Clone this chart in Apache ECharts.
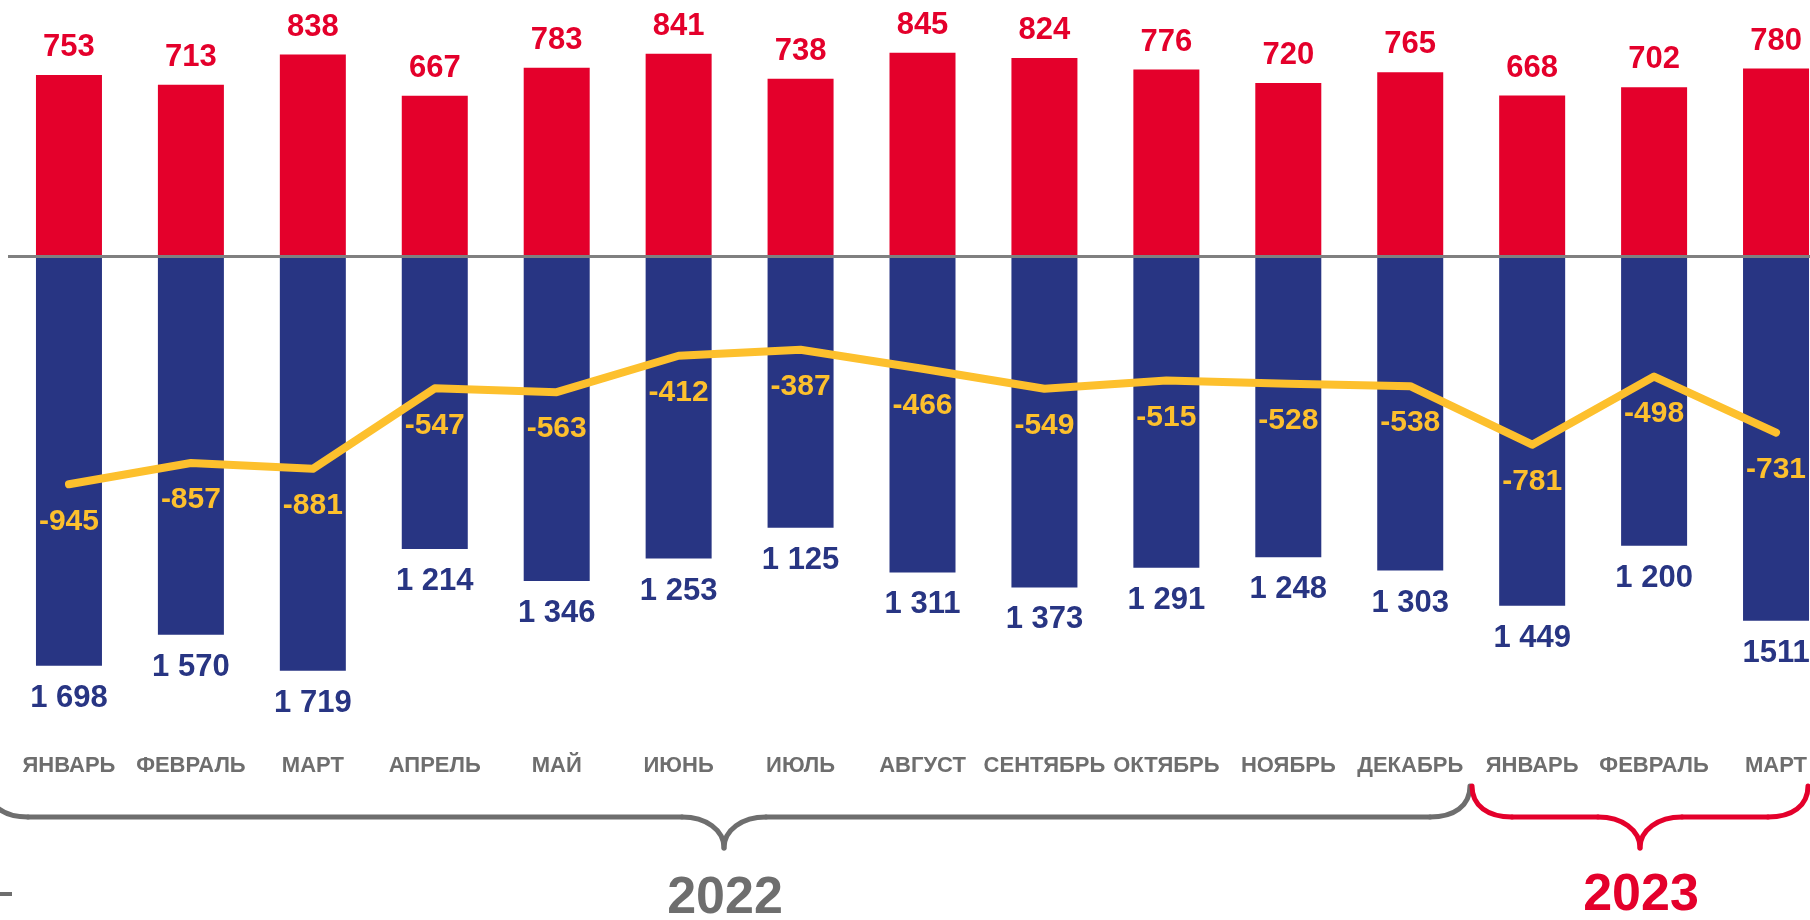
<!DOCTYPE html>
<html>
<head>
<meta charset="utf-8">
<script src="https://cdn.jsdelivr.net/npm/echarts@6/dist/echarts.min.js"></script>
<style>
html,body{margin:0;padding:0;background:#fff;overflow:hidden;width:1810px;height:920px;}
#c{width:1837px;height:920px;}
</style>
</head>
<body>
<div id="c"></div>
<script>
// Data
var months = ['ЯНВАРЬ','ФЕВРАЛЬ','МАРТ','АПРЕЛЬ','МАЙ','ИЮНЬ','ИЮЛЬ','АВГУСТ','СЕНТЯБРЬ','ОКТЯБРЬ','НОЯБРЬ','ДЕКАБРЬ','ЯНВАРЬ','ФЕВРАЛЬ','МАРТ'];
var inflow = [753, 713, 838, 667, 783, 841, 738, 845, 824, 776, 720, 765, 668, 702, 780];
var outflow = [1698, 1570, 1719, 1214, 1346, 1253, 1125, 1311, 1373, 1291, 1248, 1303, 1449, 1200, 1511];
var outflowLabels = ['1 698','1 570','1 719','1 214','1 346','1 253','1 125','1 311','1 373','1 291','1 248','1 303','1 449','1 200','1511'];
var net = [-945, -857, -881, -547, -563, -412, -387, -466, -549, -515, -528, -538, -781, -498, -731];
var yearLabels = ['2022', '2023'];

var RED = '#E4002B', BLUE = '#283583', YEL = '#FDC02D', GRAY = '#6E6E6E';
var FONT = '"Liberation Sans", Arial, sans-serif';

// brace decoration: left end, tip x, right end (pixels)
function brace(xl, xt, xr, color) {
  var top = 786, mid = 817, tipY = 848, st = { stroke: color, lineWidth: 5, fill: null, lineCap: 'round' };
  function bz(a) { return { type: 'bezierCurve', silent: true, shape: { x1: a[0], y1: a[1], cpx1: a[2], cpy1: a[3], cpx2: a[4], cpy2: a[5], x2: a[6], y2: a[7] }, style: st }; }
  function ln(x1, x2) { return { type: 'line', silent: true, shape: { x1: x1, y1: mid, x2: x2, y2: mid }, style: st }; }
  return [
    bz([xl, top, xl, top + 20, xl + 16, mid, xl + 40, mid]),
    ln(xl + 40, xt - 42),
    bz([xt - 42, mid, xt - 18, mid, xt, mid + 13, xt, tipY]),
    bz([xt, tipY, xt, mid + 13, xt + 18, mid, xt + 42, mid]),
    ln(xt + 42, xr - 40),
    bz([xr - 40, mid, xr - 16, mid, xr, top + 20, xr, top])
  ];
}

var chart = echarts.init(document.getElementById('c'));
var gfx = [].concat(
  brace(-12, 724, 1470, GRAY),
  brace(1472, 1640, 1808, RED),
  [
    { type: 'line', silent: true, shape: { x1: 0, y1: 894, x2: 12, y2: 894 }, style: { stroke: GRAY, lineWidth: 4 } },
    { type: 'text', silent: true, x: 725, y: 899,
      style: { text: yearLabels[0], fill: GRAY, font: 'bold 52px ' + FONT, textAlign: 'center', textVerticalAlign: 'middle' } },
    { type: 'text', silent: true, x: 1641, y: 896,
      style: { text: yearLabels[1], fill: RED, font: 'bold 52px ' + FONT, textAlign: 'center', textVerticalAlign: 'middle' } }
  ]
);

chart.setOption({
  animation: false,
  backgroundColor: '#ffffff',
  grid: { left: 8, right: 0, top: 15.5, height: 723, containLabel: false },
  xAxis: {
    type: 'category',
    data: months,
    position: 'bottom',
    axisLine: { show: false },
    axisTick: { show: false },
    axisLabel: { interval: 0, margin: 16, color: GRAY, fontSize: 22, fontWeight: 'bold', fontFamily: FONT }
  },
  yAxis: {
    type: 'value', min: -2000, max: 1000,
    show: false,
    splitLine: { show: false }
  },
  series: [
    {
      type: 'bar', stack: 'a', data: inflow, barWidth: 66,
      itemStyle: { color: RED },
      label: { show: true, position: 'top', distance: 12, color: RED, fontSize: 31, fontWeight: 'bold', fontFamily: FONT }
    },
    {
      type: 'bar', stack: 'a', data: outflow.map(function (v) { return -v; }), barWidth: 66,
      itemStyle: { color: BLUE },
      label: { show: true, position: 'bottom', distance: 17, color: BLUE, fontSize: 31, fontWeight: 'bold', fontFamily: FONT,
        formatter: function (p) { return outflowLabels[p.dataIndex]; } }
    },
    {
      type: 'line', data: net, z: 5,
      symbol: 'circle', symbolSize: 2, showSymbol: true,
      itemStyle: { color: YEL },
      lineStyle: { color: YEL, width: 8, cap: 'round', join: 'round' },
      label: { show: true, position: 'bottom', distance: 21, color: YEL, fontSize: 30, fontWeight: 'bold', fontFamily: FONT },
      markLine: {
        silent: true, symbol: ['none', 'none'],
        label: { show: false },
        lineStyle: { color: '#808080', width: 3, type: 'solid' },
        data: [{ yAxis: 0 }]
      }
    }
  ],
  graphic: gfx
});
</script>
</body>
</html>
